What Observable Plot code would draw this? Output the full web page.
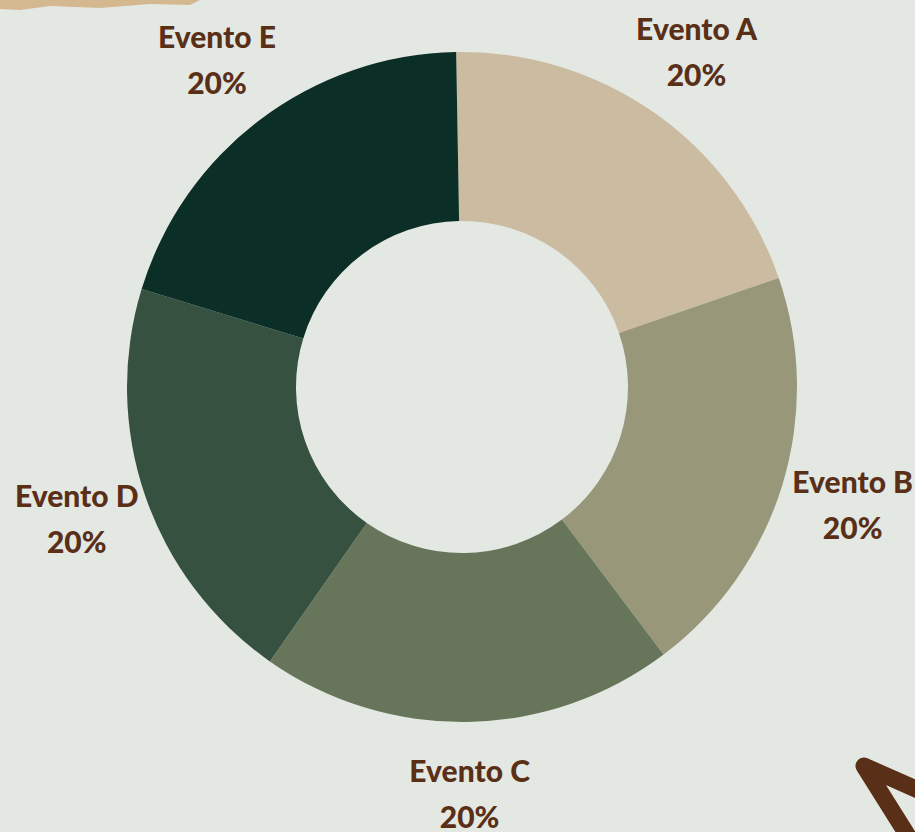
<!DOCTYPE html>
<html><head><meta charset="utf-8">
<script src="https://cdn.jsdelivr.net/npm/d3@7"></script>
<script src="https://cdn.jsdelivr.net/npm/@observablehq/plot@0.6"></script>
<style>
html,body{margin:0;padding:0;background:#E4E8E2;}
#chart{position:relative;width:915px;height:832px;overflow:hidden;background:#E4E8E2;}
#chart svg.plot{display:block;}
#deco{position:absolute;left:0;top:0;pointer-events:none;}
</style></head><body><div id="chart"></div>
<script>
const categories = ["Evento A", "Evento B", "Evento C", "Evento D", "Evento E"];
const values = [20, 20, 20, 20, 20];
const percentLabels = ["20%", "20%", "20%", "20%", "20%"];
const colors = ["#CBBBA0", "#989779", "#67765B", "#36513F", "#0B2F27"];

const data = categories.map((c, i) => ({category: c, value: values[i], label: percentLabels[i]}));

const W = 915, H = 832;
const startDeg = -1;
const R = 335, r = 166, labelR = 408;
const pie = d3.pie().value(d => d.value).sort(null)
  .startAngle(startDeg * Math.PI / 180).endAngle((360 + startDeg) * Math.PI / 180);
const arcs = pie(data);
const labelData = arcs.map(a => {
  const m = (a.startAngle + a.endAngle) / 2;
  return {...a.data, lx: labelR * Math.sin(m), ly: labelR * Math.cos(m)};
});

const colorScale = Plot.scale({color: {type: "ordinal", domain: categories, range: colors}});
const xOpt = {domain: [-462, W - 462], range: [0, W]};
const yOpt = {domain: [-(H - 387), 387], range: [H, 0]};
const xs = Plot.scale({x: xOpt}), ys = Plot.scale({y: yOpt});

function donut(index, scales) {
  const sx = scales && scales.x ? scales.x : xs.apply;
  const sy = scales && scales.y ? scales.y : ys.apply;
  const cx = sx(0), cy = sy(0);
  const k = Math.abs(sx(1) - sx(0));
  const g = d3.create("svg:g").attr("transform", `translate(${cx},${cy})`);
  const arc = d3.arc().innerRadius(r * k).outerRadius(R * k);
  g.selectAll("path").data(arcs).join("path")
    .attr("d", arc)
    .attr("fill", d => colorScale.apply(d.data.category));
  return g.node();
}

const textStyle = {fill: "#5A2F17", fontFamily: "Lato, 'Open Sans', sans-serif", fontWeight: 900, fontSize: 30, textAnchor: "middle"};

const plot = Plot.plot({
  width: W, height: H,
  margin: 0,
  x: {...xOpt, axis: null},
  y: {...yOpt, axis: null},
  style: {background: "transparent", overflow: "visible"},
  marks: [
    donut,
    Plot.text(labelData, {x: "lx", y: "ly", text: "category", dy: -23, ...textStyle}),
    Plot.text(labelData, {x: "lx", y: "ly", text: "label", dy: 23, ...textStyle})
  ]
});
plot.classList.add("plot");
const chart = document.getElementById("chart");
chart.appendChild(plot);

// decorative arrow and torn paper corner
const deco = d3.create("svg").attr("id", "deco").attr("width", W).attr("height", H);
deco.append("path")
  .attr("d", "M0,0 L200,0 L190,5 L150,4 L100,8 L50,6 L20,10 L0,9 Z")
  .attr("fill", "#D4B890");
deco.append("path")
  .attr("d", "M918,790 L864,766 L908,836")
  .attr("fill", "none").attr("stroke", "#5A2F17").attr("stroke-width", 17)
  .attr("stroke-linecap", "round").attr("stroke-linejoin", "round");
chart.appendChild(deco.node());
</script>
</body></html>
